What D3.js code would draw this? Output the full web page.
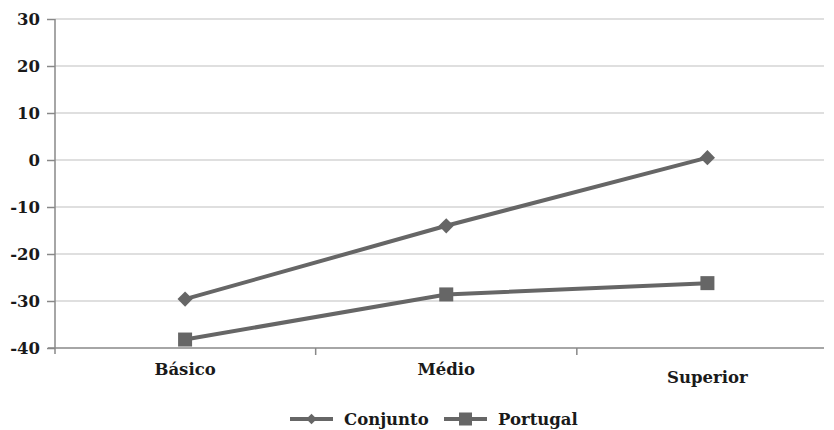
<!DOCTYPE html>
<html><head><meta charset="utf-8">
<script src="https://cdn.jsdelivr.net/npm/d3@7"></script>
<style>body{margin:0;background:#fff}</style>
</head><body><svg id="c" width="834" height="430"></svg>
<script>
const categories = ["Básico", "Médio", "Superior"];
const conjunto = [-29.6, -14.0, 0.5];
const portugal = [-38.2, -28.6, -26.2];
const yTicks = [30, 20, 10, 0, -10, -20, -30, -40];
const seriesNames = ["Conjunto", "Portugal"];

const FONT = '"DejaVu Serif","Liberation Serif",serif';
const svg = d3.select("#c");
const x = d3.scaleBand().domain(categories).range([54.5, 838]);
const y = d3.scaleLinear().domain([-40, 30]).range([348, 19]);
const lineCol = "#666666";
const styleText = sel => sel.style("font-family", FONT).style("font-weight", "bold")
  .style("font-size", "16.5px").attr("fill", "#1a1a1a");

// gridlines
svg.append("g").selectAll("line").data(yTicks.filter(t => t !== -40)).join("line")
  .attr("x1", 55).attr("x2", 824).attr("y1", d => y(d)).attr("y2", d => y(d))
  .attr("stroke", "#d4d4d4").attr("stroke-width", 1.5);

// y axis
const yAxis = d3.axisLeft(y).tickValues(yTicks).tickSize(8).tickPadding(7).tickFormat(d => String(d));
const gy = svg.append("g").attr("transform", "translate(55,0)").call(yAxis);
gy.attr("font-family", null).attr("font-size", null);
gy.select(".domain").remove();
gy.selectAll(".tick line").attr("stroke", "#888").attr("stroke-width", 1.5);
gy.selectAll(".tick text").call(styleText).attr("dy", "0.36em");
svg.append("line").attr("x1", 55).attr("x2", 55).attr("y1", 19).attr("y2", 354)
  .attr("stroke", "#888").attr("stroke-width", 1.5);

// x axis
svg.append("line").attr("x1", 48).attr("x2", 824).attr("y1", y(-40)).attr("y2", y(-40))
  .attr("stroke", "#888").attr("stroke-width", 1.5);
const bounds = categories.slice(1).map(c => x(c));
svg.append("g").selectAll("line").data(bounds).join("line")
  .attr("x1", d => d).attr("x2", d => d).attr("y1", y(-40)).attr("y2", y(-40) + 7)
  .attr("stroke", "#888").attr("stroke-width", 1.5);
svg.append("g").selectAll("text").data(categories).join("text")
  .attr("x", d => x(d) + x.bandwidth() / 2)
  .attr("y", (d, i) => i === 2 ? 383 : 375)
  .attr("text-anchor", "middle").call(styleText).text(d => d);

// lines
const line = d3.line().x((d, i) => x(categories[i]) + x.bandwidth() / 2).y(d => y(d));
[conjunto, portugal].forEach(s => {
  svg.append("path").datum(s).attr("d", line).attr("fill", "none")
    .attr("stroke", lineCol).attr("stroke-width", 4);
});
const diamond = d3.symbol().type(d3.symbolSquare).size(115);
svg.append("g").selectAll("path").data(conjunto).join("path")
  .attr("d", diamond).attr("fill", lineCol)
  .attr("transform", (d, i) => `translate(${x(categories[i]) + x.bandwidth() / 2},${y(d)}) rotate(45)`);
svg.append("g").selectAll("rect").data(portugal).join("rect")
  .attr("x", (d, i) => x(categories[i]) + x.bandwidth() / 2 - 7)
  .attr("y", d => y(d) - 7).attr("width", 14).attr("height", 14).attr("fill", lineCol);

// legend
const leg = svg.append("g");
const items = [{name: seriesNames[0], x: 290, sym: "d"}, {name: seriesNames[1], x: 444, sym: "s"}];
const ly = 419;
items.forEach(it => {
  leg.append("line").attr("x1", it.x).attr("x2", it.x + 43).attr("y1", ly).attr("y2", ly)
    .attr("stroke", lineCol).attr("stroke-width", 4);
  if (it.sym === "d") {
    leg.append("path").attr("d", d3.symbol().type(d3.symbolSquare).size(55)())
      .attr("transform", `translate(${it.x + 21.5},${ly}) rotate(45)`).attr("fill", lineCol);
  } else {
    leg.append("rect").attr("x", it.x + 15).attr("y", ly - 6.5).attr("width", 13).attr("height", 13).attr("fill", lineCol);
  }
  leg.append("text").attr("x", it.x + 54).attr("y", 425).call(styleText).text(it.name);
});
</script></body></html>
